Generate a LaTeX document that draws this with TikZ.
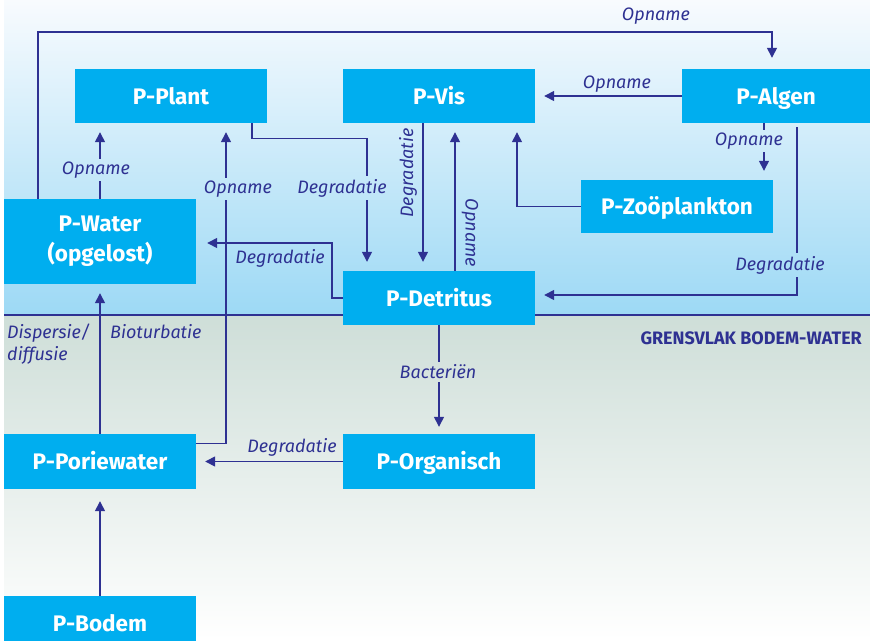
\documentclass[tikz,border=0pt]{standalone}
\usepackage{fontspec}
\setmainfont{Fira Sans}
\usetikzlibrary{arrows.meta}

\definecolor{boxcyan}{HTML}{00AEEF}
\definecolor{ink}{HTML}{2E3192}
\definecolor{skytop}{HTML}{F8FBFE}
\definecolor{skybot}{HTML}{9DD9F5}
\definecolor{soiltop}{HTML}{CEDED8}
\definecolor{soilbot}{HTML}{FFFFFF}

\begin{document}
\begin{tikzpicture}[x=1pt,y=-1pt,
  pbox/.style={fill=boxcyan, text=white, minimum width=192pt, minimum height=54pt,
    inner sep=0pt, align=center, font=\fontsize{22.5}{30}\selectfont\bfseries},
  oneline/.style={text height=18pt, text depth=2pt},
  lbl/.style={text=ink, inner sep=3pt, font=\fontsize{18}{21}\selectfont\itshape},
  flow/.style={draw=ink, line width=1.4pt},
  arr/.style={flow, -{Triangle[length=10pt,width=10pt]}, shorten >=9pt},
]
\useasboundingbox (0,0) rectangle (870,640);

% water column and sediment backgrounds
\shade[top color=skytop, bottom color=skybot] (4,0) rectangle (870,315);
\shade[top color=soiltop, bottom color=soilbot] (4,315) rectangle (870,640);
\coordinate (ifL) at (4,315);
\coordinate (ifR) at (870,315);
\draw[flow] (ifL) -- (ifR);
\node[text=ink, anchor=east, inner sep=0pt, font=\fontsize{18}{21}\selectfont\bfseries]
  (iflabel) at (862,338) {GRENSVLAK BODEM-WATER};

% phosphorus pools
\node[pbox, oneline] (pp) at (171,96) {P-Plant};
\node[pbox, oneline] (pv) at (439,96) {P-Vis};
\node[pbox, oneline, minimum width=188pt] (pa) at (776,96) {P-Algen};
\node[pbox, oneline, minimum height=53pt] (pz) at (677,206.5) {P-Zoöplankton};
\node[pbox, minimum height=85pt] (pw) at (100,241.5) {P-Water\\(opgelost)};
\node[pbox, oneline] (pd) at (439,298) {P-Detritus};
\node[pbox, oneline, minimum height=55pt] (po) at (439,461.5) {P-Organisch};
\node[pbox, oneline, minimum height=55pt] (pr) at (100,461.5) {P-Poriewater};
\node[pbox, oneline] (pb) at (100,623) {P-Bodem};

% labels
\node[lbl] (lwa) at (656,16) {Opname};
\node[lbl] (lav) at (617,84) {Opname};
\node[lbl] (laz) at (749,141) {Opname};
\node[lbl] (lad) at (780,265) {Degradatie};
\node[lbl, rotate=90] (lvd) at (408,173) {Degradatie};
\node[lbl, rotate=-90] (ldv) at (470,233) {Opname};
\node[lbl] (lpd) at (342,188) {Degradatie};
\node[lbl] (ldw) at (280,258) {Degradatie};
\node[lbl] (lwp) at (96,170) {Opname};
\node[lbl] (lrp) at (238,189) {Opname};
\node[lbl, anchor=north west, align=left, font=\fontsize{18}{22}\selectfont\itshape]
  (ldis) at (4,321) {Dispersie/\\diffusie};
\node[lbl, anchor=north west] (lbio) at (107,321) {Bioturbatie};
\node[lbl] (lbac) at (438,372) {Bacteriën};
\node[lbl] (lor) at (292,447) {Degradatie};

% flows
\draw[arr, shorten >=11pt] ([xshift=-62]pw.north) |- ([xshift=-4,yshift=37]pa.north)
  -- ([xshift=-4]pa.north);
\draw[arr] (pa.west) -- (pv.east);

\draw[flow] ([xshift=-12]pa.south) -- ([xshift=-12]pa.south |- laz.north);
\draw[arr] ([xshift=-12]pa.south |- laz.south) -- ([xshift=-12]pa.south |- pz.north);

\draw[flow] ([xshift=21,yshift=-4]pa.south) -- ([xshift=21]pa.south |- lad.north);
\draw[arr] ([xshift=21]pa.south |- lad.south) |- ([yshift=3]pd.east);

\draw[arr] (pz.west) -| ([xshift=78]pv.south);

\draw[arr] ([xshift=-16]pv.south) -- ([xshift=-16]pd.north);
\draw[arr] ([xshift=16]pd.north) -- ([xshift=16]pv.south);

\draw[flow] ([xshift=81]pp.south) -- ([xshift=81,yshift=-15]pp.south)
  -| ([xshift=-72]pd.north |- lpd.north);
\draw[arr] ([xshift=-72]pd.north |- lpd.south) -- ([xshift=-72]pd.north);

\draw[arr, shorten >=11pt] (pd.west) -- ++(-11,0) |- ([yshift=-1.5]pw.east);

\draw[flow] (pw.north) -- (pw.north |- lwp.south);
\draw[arr] (pw.north |- lwp.north) -- (pw.north |- pp.south);

\draw[flow] ([yshift=18]pr.east) -| ([xshift=55]pp.south |- lrp.south);
\draw[arr] ([xshift=55]pp.south |- lrp.north) -- ([xshift=55]pp.south);

\draw[arr] (pr.north) -- (pw.south);

\draw[flow] (pd.south) -- (pd.south |- lbac.north);
\draw[arr, shorten >=7pt] (pd.south |- lbac.south) -- (po.north);

\draw[arr] (po.west) -- (pr.east);
\draw[arr, shorten >=12pt] (pb.north) -- (pr.south);
\end{tikzpicture}
\end{document}
